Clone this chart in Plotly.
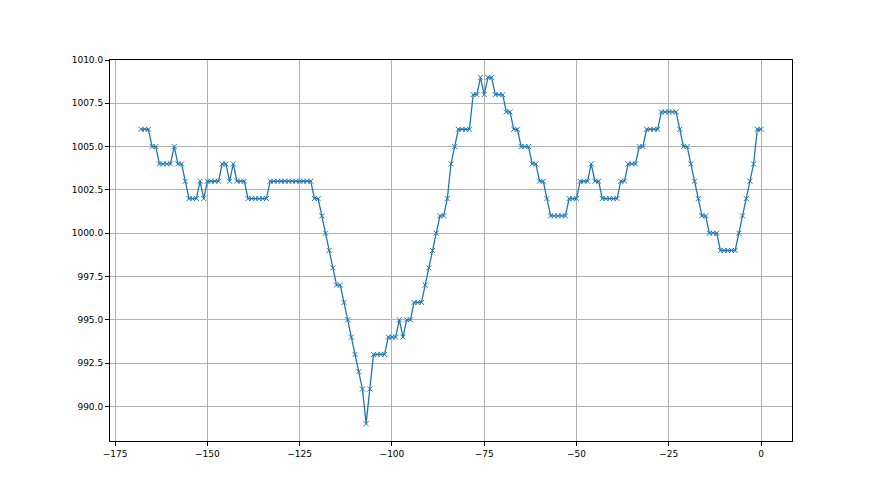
"""
Pressure trace over the last week, matplotlib-like styling in Plotly.
"""

import plotly.graph_objects as go

# hours relative to now
hours = list(range(-168, 1))

# pressure readings (hPa), one per hour
pressure = (
    [1006] * 3 + [1005] * 2 + [1004] * 4 + [1005] + [1004] * 2 + [1003]
    + [1002] * 3 + [1003] + [1002] + [1003] * 4 + [1004] * 2 + [1003]
    + [1004] + [1003] * 3 + [1002] * 6 + [1003] * 12
    + [1002] * 2 + [1001, 1000, 999, 998] + [997] * 2
    + [996, 995, 994, 993, 992, 991, 989, 991]
    + [993] * 4 + [994] * 3 + [995, 994] + [995] * 2 + [996] * 3
    + [997, 998, 999, 1000] + [1001] * 2 + [1002, 1004, 1005]
    + [1006] * 4 + [1008] * 2 + [1009, 1008] + [1009] * 2 + [1008] * 3
    + [1007] * 2 + [1006] * 2 + [1005] * 3 + [1004] * 2 + [1003] * 2
    + [1002] + [1001] * 5 + [1002] * 3 + [1003] * 3 + [1004]
    + [1003] * 2 + [1002] * 5 + [1003] * 2 + [1004] * 3 + [1005] * 2
    + [1006] * 4 + [1007] * 5 + [1006] + [1005] * 2 + [1004, 1003, 1002]
    + [1001] * 2 + [1000] * 3 + [999] * 5
    + [1000, 1001, 1002, 1003, 1004] + [1006] * 2
)

x_ticks = [-175, -150, -125, -100, -75, -50, -25, 0]
y_ticks = [990.0, 992.5, 995.0, 997.5, 1000.0, 1002.5, 1005.0, 1007.5, 1010.0]

BLUE = "#1f77b4"

fig = go.Figure(
    go.Scatter(
        x=hours,
        y=pressure,
        mode="lines+markers",
        line=dict(color=BLUE, width=1.3),
        marker=dict(symbol="x-thin", size=5, line=dict(color=BLUE, width=1)),
        showlegend=False,
    )
)

axis_style = dict(
    showgrid=True,
    gridcolor="#b0b0b0",
    gridwidth=0.8,
    zeroline=False,
    showline=True,
    mirror=True,
    linecolor="black",
    linewidth=1,
    ticks="outside",
    ticklen=4,
    tickcolor="black",
    tickfont=dict(family="DejaVu Sans", size=9, color="black"),
)

# the page body adds an 8px offset, so the figure is sized to fit inside it
fig.update_layout(
    width=872,
    height=487,
    plot_bgcolor="white",
    paper_bgcolor="white",
    margin=dict(l=102, r=88, t=52, b=54),
    xaxis=dict(**axis_style, range=[-176.4, 8.4], tickvals=x_ticks),
    yaxis=dict(**axis_style, range=[988, 1010], tickvals=y_ticks, tickformat=".1f"),
)

fig.write_html("out.html")
